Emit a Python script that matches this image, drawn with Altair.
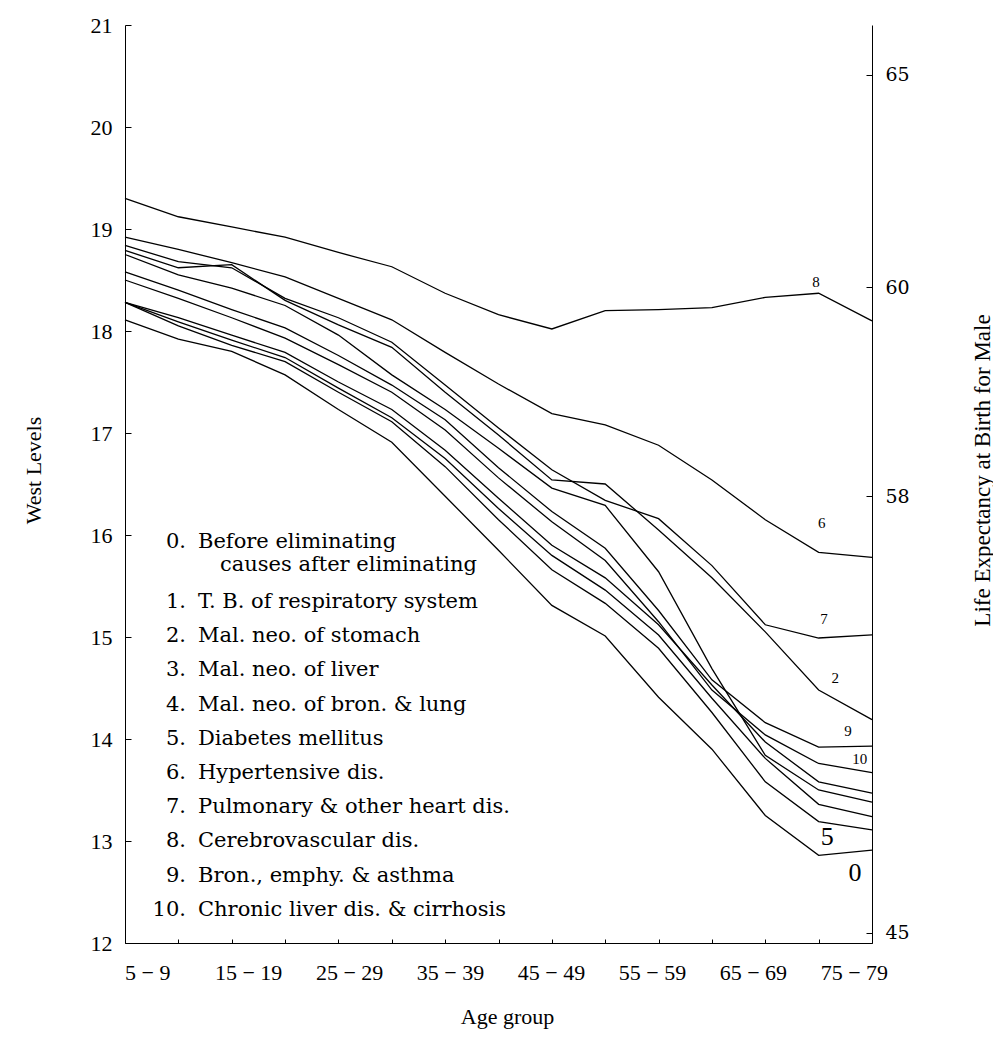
import altair as alt
import pandas as pd

# ---------------- data ----------------
age_groups = ["5 − 9", "10 − 14", "15 − 19", "20 − 24", "25 − 29", "30 − 34", "35 − 39", "40 − 44",
              "45 − 49", "50 − 54", "55 − 59", "60 − 64", "65 − 69", "70 − 74", "75 − 79"]
age_labels = ["5 − 9", "15 − 19", "25 − 29", "35 − 39", "45 − 49", "55 − 59", "65 − 69", "75 − 79"]

level_0 = [18.11, 17.92, 17.80, 17.57, 17.23, 16.91, 16.38, 15.85, 15.31, 15.01, 14.41, 13.90, 13.25, 12.86, 12.91]
level_1 = [18.28, 18.13, 17.96, 17.79, 17.50, 17.23, 16.83, 16.36, 15.90, 15.58, 15.12, 14.53, 13.97, 13.58, 13.47]
level_2 = [18.79, 18.62, 18.65, 18.30, 18.06, 17.84, 17.40, 16.98, 16.54, 16.50, 16.05, 15.58, 15.05, 14.48, 14.19]
level_3 = [18.28, 18.09, 17.91, 17.74, 17.44, 17.15, 16.75, 16.26, 15.80, 15.46, 15.02, 14.40, 13.81, 13.36, 13.24]
level_4 = [18.75, 18.55, 18.42, 18.25, 17.96, 17.57, 17.23, 16.85, 16.46, 16.29, 15.64, 14.69, 13.84, 13.50, 13.38]
level_5 = [18.28, 18.05, 17.86, 17.70, 17.40, 17.11, 16.67, 16.15, 15.66, 15.33, 14.89, 14.26, 13.58, 13.19, 13.11]
level_6 = [18.92, 18.80, 18.67, 18.53, 18.32, 18.11, 17.79, 17.48, 17.19, 17.08, 16.88, 16.54, 16.15, 15.83, 15.78]
level_7 = [18.84, 18.68, 18.62, 18.32, 18.13, 17.89, 17.47, 17.05, 16.64, 16.34, 16.16, 15.70, 15.12, 14.99, 15.02]
level_8 = [19.30, 19.12, 19.02, 18.92, 18.77, 18.63, 18.37, 18.16, 18.02, 18.20, 18.21, 18.23, 18.33, 18.37, 18.10]
level_9 = [18.58, 18.40, 18.21, 18.03, 17.76, 17.47, 17.13, 16.66, 16.23, 15.87, 15.26, 14.58, 14.16, 13.92, 13.93]
level_10 = [18.50, 18.32, 18.13, 17.93, 17.67, 17.40, 17.03, 16.56, 16.13, 15.75, 15.15, 14.48, 14.04, 13.76, 13.67]

series = {"0": level_0, "1": level_1, "2": level_2, "3": level_3, "4": level_4, "5": level_5,
          "6": level_6, "7": level_7, "8": level_8, "9": level_9, "10": level_10}

left_ticks = [12, 13, 14, 15, 16, 17, 18, 19, 20, 21]
right_tick_levels = [20.51, 18.43, 16.38, 12.10]
right_tick_labels = ["65", "60", "58", "45"]

# end-of-line labels (position in age-index / West level units)
small_lab_text = ["8", "6", "7", "2", "9", "10"]
small_lab_idx = [12.95, 13.06, 13.10, 13.31, 13.55, 13.77]
small_lab_level = [18.48, 16.12, 15.18, 14.60, 14.08, 13.80]
big_lab_text = ["5", "0"]
big_lab_idx = [13.16, 13.68]
big_lab_level = [13.04, 12.69]

legend_nums = ["0.", "", "1.", "2.", "3.", "4.", "5.", "6.", "7.", "8.", "9.", "10."]
legend_texts = ["Before eliminating", "causes after eliminating",
                "T. B. of respiratory system", "Mal. neo. of stomach", "Mal. neo. of liver",
                "Mal. neo. of bron. & lung", "Diabetes mellitus", "Hypertensive dis.",
                "Pulmonary & other heart dis.", "Cerebrovascular dis.",
                "Bron., emphy. & asthma", "Chronic liver dis. & cirrhosis"]

# ---------------- layout ----------------
W, H = 747, 918
PAD = {"left": 125, "top": 25, "right": 121, "bottom": 109}
FONT = "'Liberation Serif', 'Times New Roman', 'DejaVu Serif', serif"
FONT2 = "'DejaVu Serif', 'Liberation Serif', serif"

rows = []
for name, vals in series.items():
    for i, v in enumerate(vals):
        rows.append({"series": name, "idx": i, "age": age_groups[i], "level": v})
df = pd.DataFrame(rows)

xs = alt.Scale(domain=[0, len(age_groups) - 1], nice=False, zero=False)
ys = alt.Scale(domain=[12, 21], nice=False, zero=False)

lines = alt.Chart(df).mark_line(color="black", strokeWidth=1.3).encode(
    x=alt.X("idx:Q", scale=xs,
            axis=alt.Axis(orient="top", offset=-H, values=list(range(len(age_groups))),
                          labels=False, domain=False, ticks=True, tickSize=4,
                          tickColor="black", grid=False, title=None)),
    y=alt.Y("level:Q", scale=ys,
            axis=alt.Axis(orient="left", values=left_ticks, ticks=False, domain=True,
                          domainColor="black", grid=False, labelFont=FONT, labelFontSize=22,
                          labelPadding=13, labelColor="black",
                          title="West Levels", titleFont=FONT, titleFontSize=22,
                          titleFontWeight="normal", titleColor="black", titleAngle=270,
                          titleX=-92, titleY=445, titleAlign="center", titleBaseline="middle")),
    detail="series:N",
)

left_tick_layer = alt.Chart(pd.DataFrame({"v": left_ticks})).mark_point(opacity=0).encode(
    y=alt.Y("v:Q", scale=ys,
            axis=alt.Axis(orient="right", offset=-W, values=left_ticks, labels=False,
                          domain=False, ticks=True, tickSize=6, tickColor="black",
                          grid=False, title=None))
)

label_expr = " : ".join(
    f"abs(datum.value - {lv}) < 0.005 ? '{lab}'" for lv, lab in zip(right_tick_levels, right_tick_labels)
) + " : ''"

right_label_layer = alt.Chart(pd.DataFrame({"lv": right_tick_levels})).mark_point(opacity=0).encode(
    y=alt.Y("lv:Q", scale=ys,
            axis=alt.Axis(orient="right", values=right_tick_levels, labelExpr=label_expr,
                          ticks=False, domain=True, domainColor="black", grid=False,
                          labelFont=FONT2, labelFontSize=19, labelPadding=13,
                          labelColor="black",
                          title="Life Expectancy at Birth for Male", titleFont=FONT,
                          titleFontSize=23, titleFontWeight="normal", titleColor="black",
                          titleAngle=270, titleX=110, titleY=445, titleAlign="center",
                          titleBaseline="middle"))
)

right_tick_layer = alt.Chart(pd.DataFrame({"rv": right_tick_levels})).mark_point(opacity=0).encode(
    y=alt.Y("rv:Q", scale=ys,
            axis=alt.Axis(orient="left", offset=-W, values=right_tick_levels, labels=False,
                          domain=False, ticks=True, tickSize=6, tickColor="black",
                          grid=False, title=None))
)

xlabel_layer = alt.Chart(pd.DataFrame({"age": age_labels})).mark_point(opacity=0).encode(
    x=alt.X("age:N", sort=age_labels,
            scale=alt.Scale(type="point", domain=age_labels, padding=0.2, align=0.55),
            axis=alt.Axis(orient="bottom", labelAngle=0, ticks=False, domain=True,
                          domainColor="black", grid=False, labelFont=FONT, labelFontSize=22,
                          labelPadding=19, labelColor="black",
                          title="Age group", titleFont=FONT, titleFontSize=22,
                          titleFontWeight="normal", titleColor="black",
                          titleX=382, titleY=73, titleBaseline="middle", titleAlign="center"))
)

small_labels = alt.Chart(pd.DataFrame({"t": small_lab_text, "i": small_lab_idx, "l": small_lab_level})).mark_text(
    font=FONT, fontSize=15, color="black", baseline="middle", align="center"
).encode(
    x=alt.X("i:Q", scale=xs, axis=None),
    y=alt.Y("l:Q", scale=ys, axis=None),
    text="t:N",
)

big_labels = alt.Chart(pd.DataFrame({"t": big_lab_text, "i": big_lab_idx, "l": big_lab_level})).mark_text(
    font=FONT, fontSize=26, color="black", baseline="middle", align="center"
).encode(
    x=alt.X("i:Q", scale=xs, axis=None),
    y=alt.Y("l:Q", scale=ys, axis=None),
    text="t:N",
)

# legend block layout (pixel positions inside the plot area)
leg_top = 542 - PAD["top"]
leg_rows = []
for k, (n, t) in enumerate(zip(legend_nums, legend_texts)):
    if k == 0:
        py = leg_top
    elif k == 1:
        py = leg_top + 23
    else:
        py = leg_top + 60 + (k - 2) * 34.2
    px_text = (220 if n == "" else 198) - PAD["left"]
    leg_rows.append({"num": n, "txt": t, "py": py, "px": px_text})
leg_df = pd.DataFrame(leg_rows)

legend_nums_layer = alt.Chart(leg_df).mark_text(
    font=FONT2, fontSize=21, color="black", align="right", baseline="middle"
).encode(
    x=alt.value(186 - PAD["left"]),
    y=alt.Y("py:Q", scale=None, axis=None),
    text="num:N",
)

legend_text_layer = alt.Chart(leg_df).mark_text(
    font=FONT2, fontSize=21, color="black", align="left", baseline="middle"
).encode(
    x=alt.X("px:Q", scale=None, axis=None),
    y=alt.Y("py:Q", scale=None, axis=None),
    text="txt:N",
)

chart = alt.layer(
    lines, left_tick_layer, right_label_layer, right_tick_layer, xlabel_layer,
    small_labels, big_labels, legend_nums_layer, legend_text_layer,
).resolve_scale(
    x="independent", y="independent"
).resolve_axis(
    x="independent", y="independent"
).properties(
    width=W, height=H, padding=PAD,
    autosize=alt.AutoSizeParams(type="none"),
    background="white",
).configure_view(stroke="transparent")

chart.save("out.html", embed_options={"renderer": "svg", "actions": False})
